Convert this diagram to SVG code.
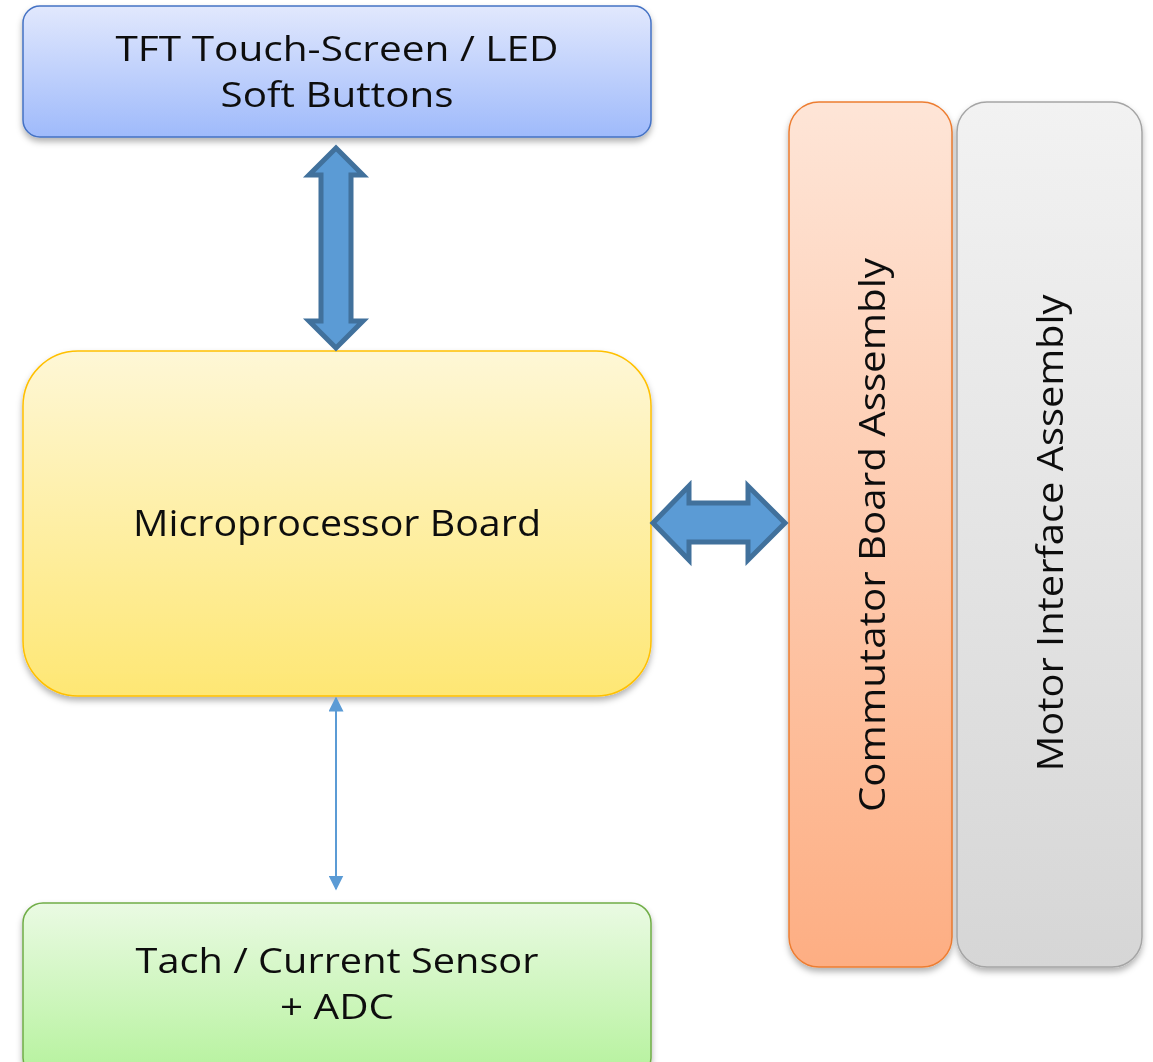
<svg xmlns="http://www.w3.org/2000/svg" width="1153" height="1062" viewBox="0 0 1153 1062">
<defs>
<style>
.lbl{font-family:"Open Sans","Noto Sans","Liberation Sans",sans-serif;font-size:36px;fill:#111;text-anchor:middle}
.sm{font-size:34px}
.blk{fill:#5b9bd5;stroke:#41719c;stroke-width:5;stroke-linejoin:miter}
</style>
<linearGradient id="gBlue" x1="0" y1="0" x2="0" y2="1"><stop offset="0" stop-color="#e1e8fd"/><stop offset="1" stop-color="#9fbafb"/></linearGradient>
<linearGradient id="gYel" x1="0" y1="0" x2="0" y2="1"><stop offset="0" stop-color="#fef7d6"/><stop offset="1" stop-color="#fee774"/></linearGradient>
<linearGradient id="gGrn" x1="0" y1="0" x2="0" y2="1"><stop offset="0" stop-color="#eafae3"/><stop offset="1" stop-color="#b5f29c"/></linearGradient>
<linearGradient id="gOr" x1="0" y1="0" x2="0" y2="1"><stop offset="0" stop-color="#fee5d7"/><stop offset="1" stop-color="#fdae83"/></linearGradient>
<linearGradient id="gGr" x1="0" y1="0" x2="0" y2="1"><stop offset="0" stop-color="#f2f2f2"/><stop offset="1" stop-color="#d6d6d6"/></linearGradient>
<filter id="sh" x="-10%" y="-10%" width="120%" height="120%"><feDropShadow dx="0" dy="4" stdDeviation="3" flood-color="#000" flood-opacity="0.3"/></filter>
<marker id="ah" viewBox="0 0 10 10" refX="9" refY="5" markerWidth="7.5" markerHeight="7.5" orient="auto-start-reverse"><path d="M0,0 L10,5 L0,10 z" fill="#5b9bd5"/></marker>
</defs>
<rect width="1153" height="1062" fill="#fff"/>
<g id="tft" filter="url(#sh)">
<rect x="23" y="6" width="628" height="131" rx="17" fill="url(#gBlue)" stroke="#4472c4" stroke-width="1.5"/>
<text class="lbl sm" x="337" y="61" textLength="443" lengthAdjust="spacingAndGlyphs">TFT Touch-Screen / LED</text>
<text class="lbl sm" x="337" y="107" textLength="233" lengthAdjust="spacingAndGlyphs">Soft Buttons</text>
</g>
<g id="micro" filter="url(#sh)">
<rect x="23" y="351" width="628" height="345" rx="55" fill="url(#gYel)" stroke="#ffc000" stroke-width="1.5"/>
<text class="lbl" x="337" y="536" textLength="408" lengthAdjust="spacingAndGlyphs">Microprocessor Board</text>
</g>
<g id="tach" filter="url(#sh)">
<rect x="23" y="903" width="628" height="175" rx="20" fill="url(#gGrn)" stroke="#70ad47" stroke-width="1.5"/>
<text class="lbl sm" x="337" y="973" textLength="403" lengthAdjust="spacingAndGlyphs">Tach / Current Sensor</text>
<text class="lbl sm" x="337" y="1019" textLength="114" lengthAdjust="spacingAndGlyphs">+ ADC</text>
</g>
<g id="commutator" filter="url(#sh)">
<rect x="789" y="102" width="163" height="865" rx="30" fill="url(#gOr)" stroke="#ed7d31" stroke-width="1.5"/>
<text class="lbl" transform="translate(885,535) rotate(-90)" textLength="554" lengthAdjust="spacingAndGlyphs">Commutator Board Assembly</text>
</g>
<g id="motor" filter="url(#sh)">
<rect x="957" y="102" width="185" height="865" rx="30" fill="url(#gGr)" stroke="#a5a5a5" stroke-width="1.5"/>
<text class="lbl" transform="translate(1063,533) rotate(-90)" textLength="477" lengthAdjust="spacingAndGlyphs">Motor Interface Assembly</text>
</g>
<g id="connectors">
<path class="blk" d="M336,148 L363,175 L351,175 L351,321 L363,321 L336,348 L309,321 L321,321 L321,175 L309,175 Z"/>
<path class="blk" d="M653,523 L689,486 L689,503 L748,503 L748,486 L785,523 L748,560 L748,542 L689,542 L689,560 Z"/>
<line x1="336" y1="698" x2="336" y2="889" stroke="#5b9bd5" stroke-width="2" marker-start="url(#ah)" marker-end="url(#ah)"/>
</g>
</svg>
